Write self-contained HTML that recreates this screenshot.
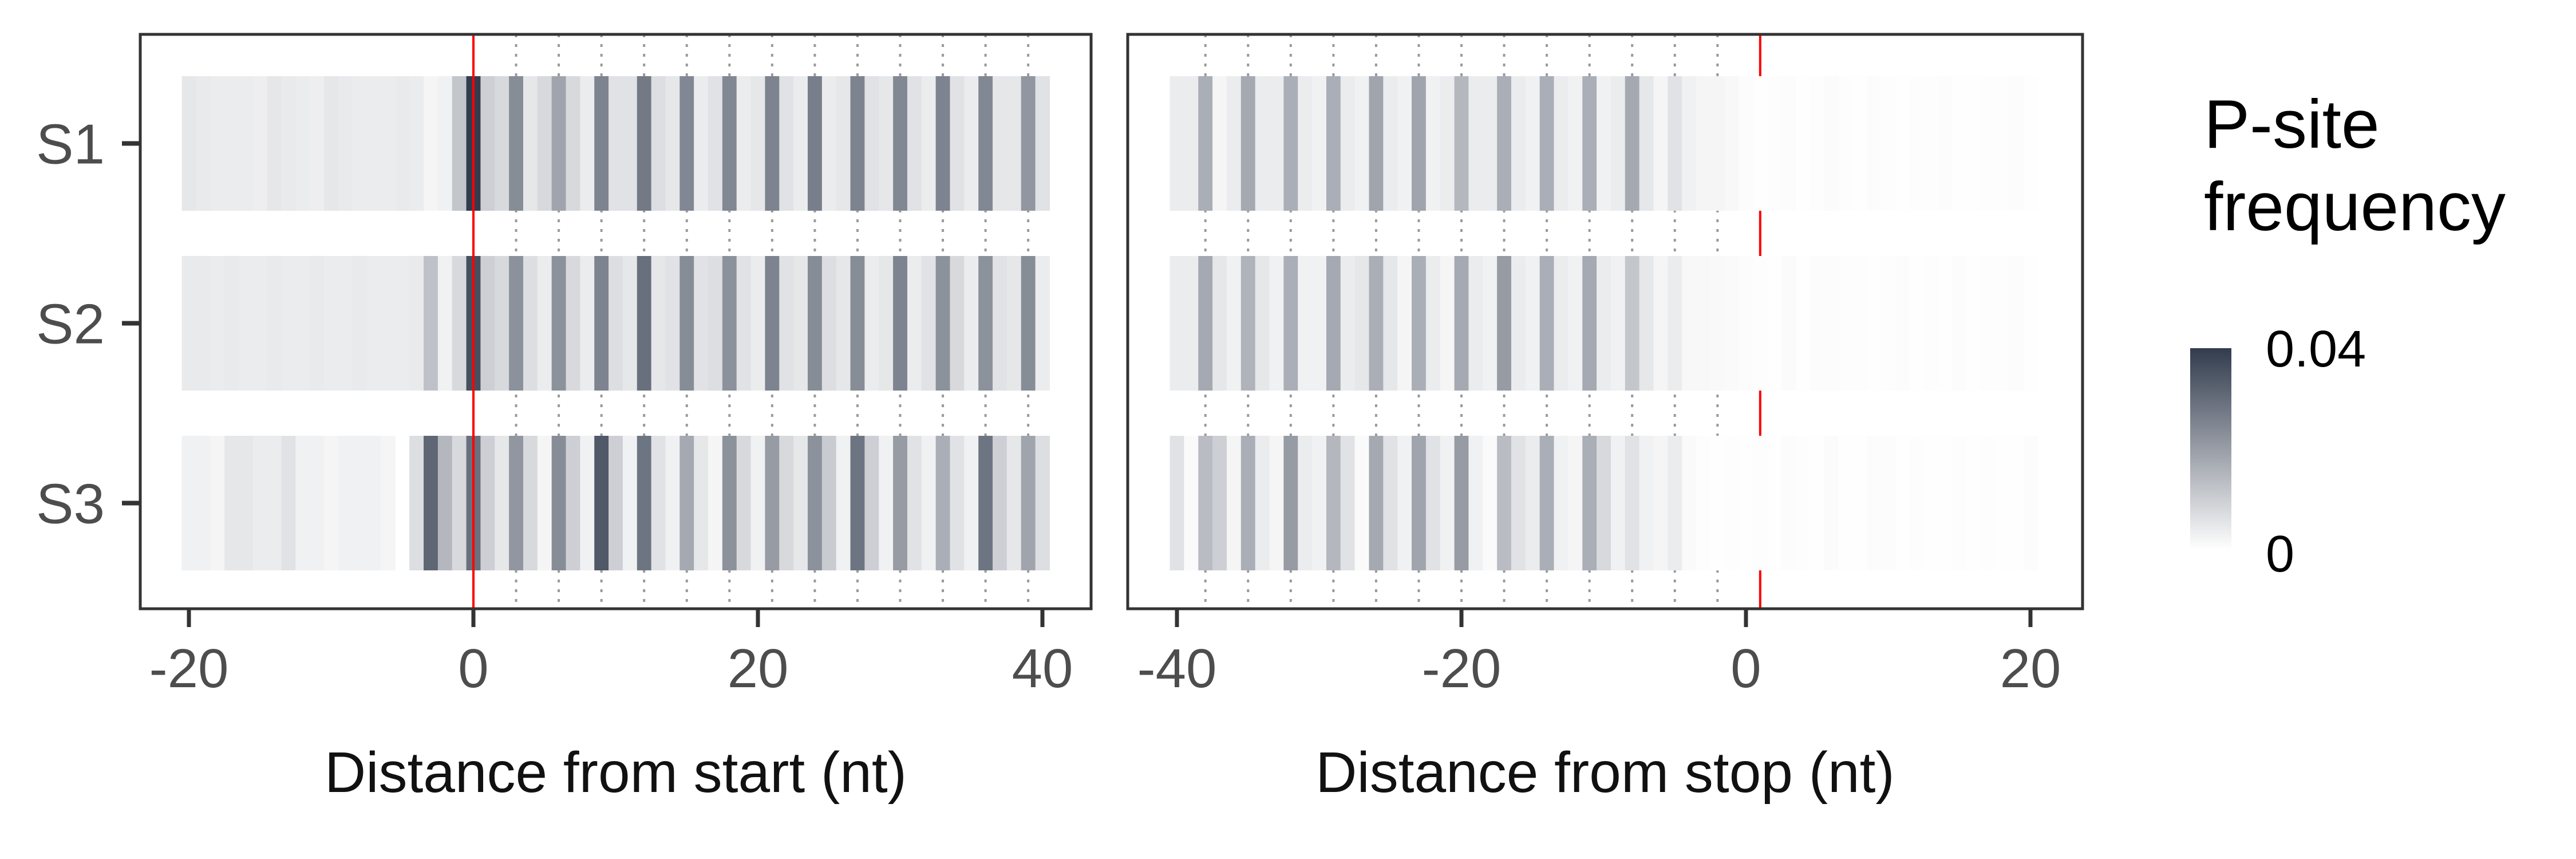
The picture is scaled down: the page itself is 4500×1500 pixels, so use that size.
<!DOCTYPE html>
<html><head><meta charset="utf-8"><style>
html,body{margin:0;padding:0;background:#fff;}
svg{display:block;font-family:"Liberation Sans",sans-serif;}
</style></head><body>
<svg id="chart" width="4500" height="1500" viewBox="0 0 4500 1500" xmlns="http://www.w3.org/2000/svg">
<rect x="0" y="0" width="4500" height="1500" fill="#fff"/>
<g id="left"></g>
<g id="right"></g>
<g id="legend">
  <defs><linearGradient id="lg" x1="0" y1="1" x2="0" y2="0">
    <stop offset="0" stop-color="#ffffff"/><stop offset="1" stop-color="#323c4e"/></linearGradient></defs>
  <text x="3850" y="258" font-size="120" fill="#000">P-site</text>
  <text x="3850" y="402" font-size="120" fill="#000">frequency</text>
  <rect x="3826" y="608" width="72" height="352" fill="url(#lg)"/>
  <text x="3958" y="640" font-size="90" fill="#000">0.04</text>
  <text x="3958" y="998" font-size="90" fill="#000">0</text>
</g>
</svg>
<script>
const rows = ["S1","S2","S3"];
const startPos = [];
const stopPos = [];
const startTicks = [-20,0,20,40];
const stopTicks = [-40,-20,0,20];
const startS1 = [5,4.5,4,4,4,3.5,5,4.5,4,3.5,5,4.5,4,4,4,4.5,4,2,3,12,41,10,8,24,5,8,19,8,4,26,6,6,28,7,5,25,4,6,25,4,5,26,6,4,27,4,5,26,6,5,25,6,4,26,6,4,25,5,5,22,6];
const startS2 = [4.5,4.5,4,4.5,4,4,4.5,4,4,4.5,4,4,4.5,4,4,4,4.5,13,3,8,37,10,8,23,7,4,23,8,4,26,7,5,30,5,6,24,6,7,23,6,4,26,6,5,24,7,5,24,4,5,26,4,6,23,8,4,23,6,5,24,4];
const startS3 = [3,3,2,5,5,4,4,6,3,3,2,3,3,3,2,0,7,32,15,8,30,10,5,22,8,2,24,10,3,35,10,3,29,6,3,18,5,2,23,8,3,21,8,5,23,11,3,29,10,3,21,6,3,17,6,3,29,10,5,19,7];
const stopS1 = [4,4,17,2,4,18,4,4,17,4,3,17,4,3,19,4,3,19,3,4,15,4,4,17,4,3,17,4,3,17,3,4,18,5,2,6,3,2,2,1.5,0.7,0.3,0.4,0.6,0.3,0.4,0.8,0.5,0.3,0.6,0.4,0.3,0.5,0.4,0.6,0.3,0.3,0.5,0.4,0.6,0.3];
const stopS2 = [4,4,18,5,3,16,5,3,17,3,3,18,4,5,17,5,2,17,4,2,18,4,3,21,4,3,17,4,3,18,4,3,12,5,2,4,1.5,1.5,1.2,1,0.6,0.5,0.3,0.8,0.3,0.6,0.6,0.4,0.4,0.3,0.5,0.7,0.3,0.4,0.3,0.6,0.3,0.5,0.4,0.6,0.3];
const stopS3 = [6,1,14,10,2,17,4,2,21,4,3,15,6,1,18,6,3,19,6,3,21,3,1,14,6,4,17,3,2,17,8,3,6,3,2,4,1,0.5,0.3,0.5,0.3,0.5,0.3,0.6,0.4,0.3,0.8,0.3,0.3,0.6,0.6,0.3,0.5,0.3,0.3,0.4,0.3,0.5,0.3,0.3,0.6];
const startFrameLines = [3,6,9,12,15,18,21,24,27,30,33,36,39];
const stopFrameLines = [-38,-35,-32,-29,-26,-23,-20,-17,-14,-11,-8,-5,-2];
for (let i=-20;i<=40;i++) startPos.push(i);
for (let i=-40;i<=20;i++) stopPos.push(i);

const NS="http://www.w3.org/2000/svg";
const MAXV=41, DARK=[50,60,78];
function color(v){const t=Math.max(0,Math.min(1,v/MAXV));const c=DARK.map(d=>Math.round(255+(d-255)*t));return `rgb(${c[0]},${c[1]},${c[2]})`;}
function mk(parent,tag,attrs){const e=document.createElementNS(NS,tag);for(const k in attrs)e.setAttribute(k,attrs[k]);parent.appendChild(e);return e;}
const PT=60,PB=1063;
function yScale(i){return 250.5+i*314;}
const TILE_H=235;

function panel(g,name,x0,x1,xs,pos,data,lines,ticks,redX,redOver,title,showY){
  const unit=24.85;
  const frame=mk(g,'rect',{x:x0,y:PT,width:x1-x0,height:PB-PT,fill:'#fff'});
  
  
  lines.forEach(p=>{const l=mk(g,'line',{x1:xs(p),x2:xs(p),y1:PT,y2:PB,stroke:'#9a9a9a','stroke-width':4,'stroke-dasharray':'5,12'});
    
    });
  const drawRed=()=>{const r=mk(g,'line',{x1:xs(redX),x2:xs(redX),y1:PT,y2:PB,stroke:'#ff0000','stroke-width':4});
    
    };
  if(!redOver) drawRed();
  data.forEach((row,ri)=>{row.forEach((v,ci)=>{if(v<=0)return;
    const c=mk(g,'rect',{x:xs(pos[ci])-unit/2,y:yScale(ri)-TILE_H/2,width:unit+0.6,height:TILE_H,fill:color(v)});
    
    });});
  if(redOver) drawRed();
  const b=mk(g,'rect',{x:x0,y:PT,width:x1-x0,height:PB-PT,fill:'none',stroke:'#333','stroke-width':5});
  
  
  ticks.forEach(t=>{const tl=mk(g,'line',{x1:xs(t),x2:xs(t),y1:PB,y2:PB+32,stroke:'#333','stroke-width':7});
    
    
    const tx=mk(g,'text',{x:xs(t),y:1200,'font-size':96,fill:'#4d4d4d','text-anchor':'middle'});tx.textContent=String(t);
    
    });
  const at=mk(g,'text',{x:(x0+x1)/2,y:1383,'font-size':100,fill:'#111','text-anchor':'middle'});at.textContent=title;
  
  
  if(showY){rows.forEach((r,ri)=>{const yl=mk(g,'line',{x1:x0-32,x2:x0,y1:yScale(ri),y2:yScale(ri),stroke:'#333','stroke-width':8});
      
      
      const yt=mk(g,'text',{x:x0-62,y:yScale(ri)+35,'font-size':98,fill:'#4d4d4d','text-anchor':'end'});yt.textContent=r;
      
      });}
}
const xsL=v=>827+v*24.85;
const xsR=v=>3050+v*24.85;
panel(document.getElementById('left'),'start',245,1906,xsL,startPos,[startS1,startS2,startS3],startFrameLines,startTicks,0,true,'Distance from start (nt)',true);
panel(document.getElementById('right'),'stop',1970,3638,xsR,stopPos,[stopS1,stopS2,stopS3],stopFrameLines,stopTicks,1,false,'Distance from stop (nt)',false);
</script>
</body></html>
